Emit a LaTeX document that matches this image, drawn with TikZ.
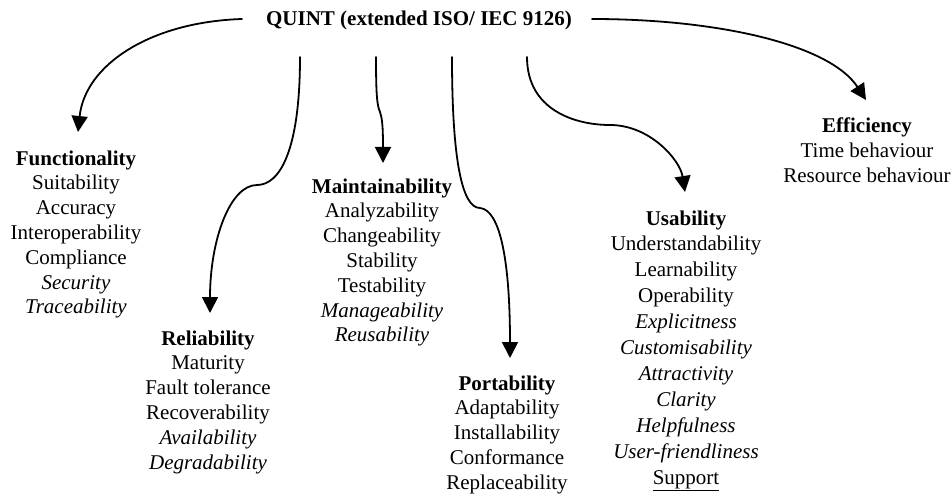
\documentclass[tikz,border=0pt]{standalone}
\usepackage{fontspec}
\setmainfont{Liberation Serif}
\usetikzlibrary{arrows.meta}
\begin{document}
\begin{tikzpicture}[x=1pt,y=-1pt,
  txt/.style={font=\fontsize{21}{24.8}\selectfont, align=center, inner sep=0pt, anchor=base},
  link/.style={line width=1.8pt, line cap=round, -{Triangle[length=16pt,width=16pt]}}]
\useasboundingbox (0,0) rectangle (952,497);

% root of the quality model
\node[txt] (q) at (419,26) {\textbf{QUINT (extended ISO/ IEC 9126)}};

% characteristics with their sub-characteristics
% (each node is placed at the baseline of its last line)
\node[txt] (fun) at (76,313.8) {\textbf{Functionality}\\Suitability\\Accuracy\\Interoperability\\Compliance\\\textit{Security}\\\textit{Traceability}};
\node[txt] (rel) at (208,469) {\textbf{Reliability}\\Maturity\\Fault tolerance\\Recoverability\\\textit{Availability}\\\textit{Degradability}};
\node[txt] (mai) at (382,341.8) {\textbf{Maintainability}\\Analyzability\\Changeability\\Stability\\Testability\\\textit{Manageability}\\\textit{Reusability}};
\node[txt] (por) at (507,489.2) {\textbf{Portability}\\Adaptability\\Installability\\Conformance\\Replaceability};
\node[txt, font=\fontsize{21}{25.9}\selectfont] (usa) at (686,484) {\textbf{Usability}\\Understandability\\Learnability\\Operability\\\textit{Explicitness}\\\textit{Customisability}\\\textit{Attractivity}\\\textit{Clarity}\\\textit{Helpfulness}\\\textit{User-friendliness}\\\underline{Support}};
\node[txt] (eff) at (867,182.6) {\textbf{Efficiency}\\Time behaviour\\Resource behaviour};

% connector ends
\coordinate (qF) at (242,19);
\coordinate (qR) at (300,57);
\coordinate (qM) at (376,57);
\coordinate (qP) at (452,57);
\coordinate (qU) at (527,57);
\coordinate (qE) at (592,19);
\coordinate (tF) at (78,132);
\coordinate (tR) at (210,313);
\coordinate (tM) at (383,163);
\coordinate (tP) at (510,358);
\coordinate (tU) at (685,192);
\coordinate (tE) at (866,100);

% connectors
\draw[link] (qF) .. controls (150,22) and (85,65) .. (tF);
\draw[link] (qR) .. controls (300,150) and (280,185) .. (257,185)
                 .. controls (230,185) and (210,240) .. (tR);
\draw[link] (qM) .. controls (376,95) and (377,105) .. (380,112)
                 .. controls (382,118) and (383,125) .. (tM);
\draw[link] (qP) .. controls (452,160) and (462,208) .. (480,208)
                 .. controls (500,210) and (510,260) .. (tP);
\draw[link] (qU) .. controls (527,110) and (575,125) .. (610,125)
                 .. controls (650,125) and (680,160) .. (tU);
\draw[link] (qE) .. controls (720,19) and (830,45) .. (tE);
\end{tikzpicture}
\end{document}
